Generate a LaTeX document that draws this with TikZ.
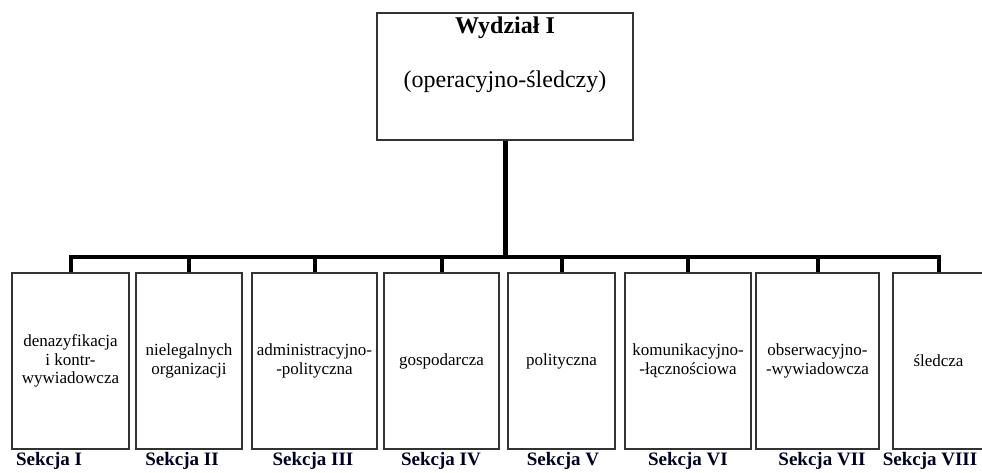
\documentclass[tikz,border=0pt]{standalone}
\usepackage{fontspec}
\setmainfont{Liberation Serif}

\begin{document}
\begin{tikzpicture}[x=1pt,y=-1pt]
\tikzstyle{ramka}=[rectangle,draw=black!80,line width=1.3pt]
\tikzstyle{sekcja}=[ramka,align=center,minimum height=176pt,inner sep=2pt,font=\fontsize{17}{18.5}\selectfont]
\tikzstyle{podpis}=[font=\fontsize{19}{21}\selectfont\bfseries,text=black!85!blue]
\tikzstyle{laczenie}=[line width=4pt]
\useasboundingbox (0,0) rectangle (982,472);
\clip (0,0) rectangle (982,472);

\node[ramka,minimum width=256pt,minimum height=127pt] (W) at (505,76.5) {};
\node[font=\fontsize{24}{26}\selectfont\bfseries] (Wt) at (505,28) {Wydział I};
\node[font=\fontsize{24}{26}\selectfont] (Wp) at (505,82) {(operacyjno-śledczy)};

\node[sekcja,minimum width=117pt] (s1) at (70.5,361) {denazyfikacja\\i kontr-\\wywiadowcza};
\node[sekcja,minimum width=106pt] (s2) at (189,361) {nielegalnych\\organizacji};
\node[sekcja,minimum width=125pt] (s3) at (314.5,361) {administracyjno-\\-polityczna};
\node[sekcja,minimum width=115pt] (s4) at (441.5,361) {gospodarcza};
\node[sekcja,minimum width=107pt] (s5) at (561.5,361) {polityczna};
\node[sekcja,minimum width=126pt] (s6) at (688,361) {komunikacyjno-\\-łącznościowa};
\node[sekcja,minimum width=123pt] (s7) at (817.5,361) {obserwacyjno-\\-wywiadowcza};
\node[sekcja,minimum width=91pt] (s8) at (938.5,361) {śledcza};

\node[podpis] (p1) at (49,461) {Sekcja I};
\node[podpis] (p2) at (182,461) {Sekcja II};
\node[podpis] (p3) at (313,461) {Sekcja III};
\node[podpis] (p4) at (441,461) {Sekcja IV};
\node[podpis] (p5) at (563,461) {Sekcja V};
\node[podpis] (p6) at (688,461) {Sekcja VI};
\node[podpis] (p7) at (822,461) {Sekcja VII};
\node[podpis] (p8) at (930,461) {Sekcja VIII};

% linie od wydzialu do sekcji
\coordinate (R) at (505,257);
\draw[line width=5pt] (W.south) -- (R);
\foreach \s in {s1,s2,s3,s4,s5,s6,s7,s8}
  \draw[laczenie] (R) -| (\s.north);
\end{tikzpicture}
\end{document}
